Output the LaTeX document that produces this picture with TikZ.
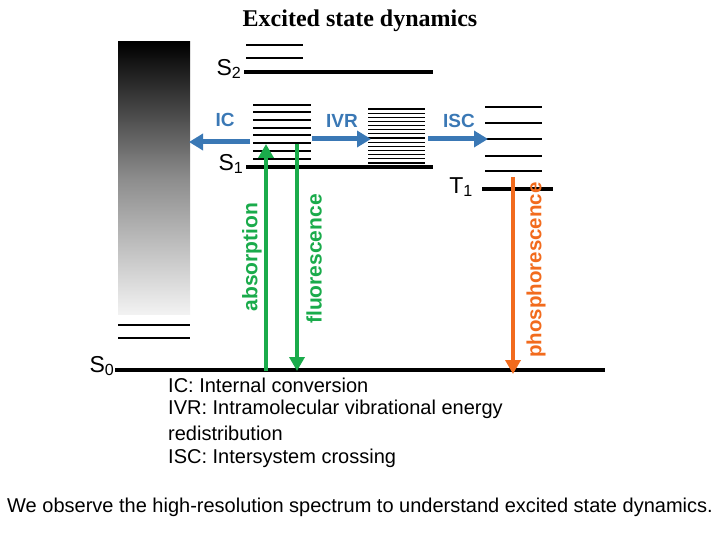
\documentclass[tikz,border=0pt]{standalone}
\usepackage{fontspec}
\setmainfont{Liberation Sans}
\newfontfamily\serif{Liberation Serif}
\usetikzlibrary{arrows.meta}
\definecolor{bl}{HTML}{3A78B5}
\definecolor{gr}{HTML}{1AAB4B}
\definecolor{orng}{HTML}{F26B1D}
\begin{document}
\begin{tikzpicture}[x=1pt,y=-1pt,
 thick lvl/.style={line width=3.5pt},
 thin lvl/.style={line width=1.3pt},
 barrow/.style={bl,line width=5pt,-{Triangle[length=14pt,width=16pt]}},
 garrow/.style={gr,line width=4.5pt,-{Triangle[length=14pt,width=15pt]}},
 oarrow/.style={orng,line width=4.5pt,-{Triangle[length=14pt,width=15pt]}},
 lbl/.style={font=\fontsize{23}{23}\selectfont},
 blbl/.style={font=\fontsize{19}{19}\selectfont\bfseries,text=bl},
 vlbl/.style={font=\fontsize{21}{21}\selectfont\bfseries,rotate=90},
 txt/.style={font=\fontsize{20}{20}\selectfont,anchor=west,inner sep=0}]
\useasboundingbox (0,0) rectangle (720,540);
\node (title) at (360,21) {\serif\bfseries\fontsize{24}{24}\selectfont Excited state dynamics};
\shade[top color=black,bottom color=black!5,middle color=black!45] (118,42) rectangle (190,314);
\draw[thin lvl] (118,325) -- (190,325) (118,338) -- (190,338);
% S0
\coordinate (s0l) at (115,370); \coordinate (s0r) at (605,370);
\draw[thick lvl] (s0l) -- (s0r);
\node[lbl] (s0) at (102,366) {S\textsubscript{0}};
% S2
\draw[thick lvl] (244,72) -- (433,72);
\draw[thin lvl] (246,45) -- (303,45) (246,58) -- (303,58);
\node[lbl] (s2) at (229,69) {S\textsubscript{2}};
% S1
\draw[thick lvl] (246,167) -- (433,167);
\node[lbl] (s1) at (231,164) {S\textsubscript{1}};
\foreach \y in {105,112,120,128,135,143,151,159} \draw[thin lvl] (253,\y) -- (311,\y);
\foreach \i in {0,...,13} \draw[line width=1.2pt] (368,109+4.15*\i) -- (425,109+4.15*\i);
\foreach \y in {107,123,139,156,171} \draw[thin lvl] (485,\y) -- (542,\y);
\draw[thick lvl] (482,189) -- (553,189);
\node[lbl] (t1) at (461,187) {T\textsubscript{1}};
% blue arrows
\coordinate (ica) at (250,142); \coordinate (icb) at (189,142);
\coordinate (iva) at (312,139); \coordinate (ivb) at (371,139);
\coordinate (isa) at (428,139); \coordinate (isb) at (488,139);
\draw[barrow] (ica) -- (icb);
\draw[barrow] (iva) -- (ivb);
\draw[barrow] (isa) -- (isb);
\node[blbl] (ic) at (225,120) {IC};
\node[blbl] (ivr) at (342,121) {IVR};
\node[blbl] (isc) at (459,121) {ISC};
% vertical arrows
\coordinate (ab0) at (266,371); \coordinate (ab1) at (266,144);
\coordinate (fl0) at (297,144); \coordinate (fl1) at (297,371);
\coordinate (ph0) at (513,177); \coordinate (ph1) at (513,374);
\draw[garrow] (ab0) -- (ab1);
\draw[garrow] (fl0) -- (fl1);
\draw[oarrow] (ph0) -- (ph1);
\node[vlbl,text=gr] (abs) at (252,257) {absorption};
\node[vlbl,text=gr] (flu) at (314,259) {fluorescence};
\node[vlbl,text=orng,font=\fontsize{20.5}{20.5}\selectfont\bfseries] (pho) at (536,270) {phosphorescence};
% legend
\node[txt] (l1) at (168,385) {IC: Internal conversion};
\node[txt] (l2) at (168,409) {IVR: Intramolecular vibrational energy};
\node[txt] (l3) at (168,433) {redistribution};
\node[txt] (l4) at (168,458) {ISC: Intersystem crossing};
\node[font=\fontsize{20}{20}\selectfont] (bot) at (360,507) {We observe the high-resolution spectrum to understand excited state dynamics.};
\end{tikzpicture}
\end{document}
